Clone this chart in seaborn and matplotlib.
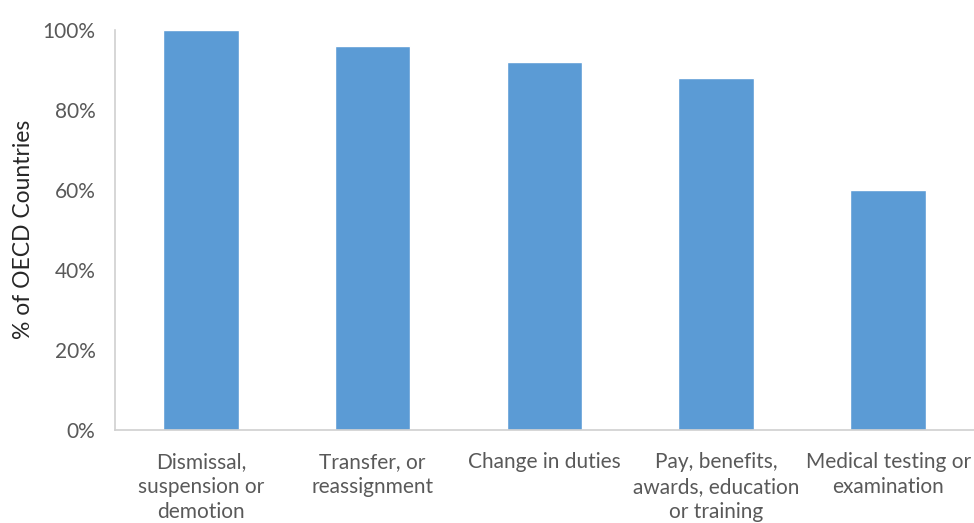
import matplotlib
matplotlib.use("Agg")
import matplotlib.pyplot as plt
import seaborn as sns
import pandas as pd
from matplotlib.ticker import FuncFormatter

categories = [
    "Dismissal,\nsuspension or\ndemotion",
    "Transfer, or\nreassignment",
    "Change in duties",
    "Pay, benefits,\nawards, education\nor training",
    "Medical testing or\nexamination",
]
values = [100, 96, 92, 88, 60]

sns.set_theme(style="white")
plt.rcParams["font.family"] = ["Lato", "DejaVu Sans"]

df = pd.DataFrame({"category": categories, "value": values})

fig = plt.figure(figsize=(9.74, 5.23), dpi=100)
ax = fig.add_axes([0.118, 0.178, 0.882, 0.765])
sns.barplot(data=df, x="category", y="value", color="#5B9BD5", width=0.44,
            saturation=1, ax=ax)

ax.set_ylim(0, 100)
ax.set_xlim(-0.5, 4.5)
ax.set_yticks([0, 20, 40, 60, 80, 100])
ax.yaxis.set_major_formatter(FuncFormatter(lambda v, p: f"{int(v)}%"))
ax.tick_params(axis="y", length=0, labelsize=15, colors="#595959", pad=14)
ax.tick_params(axis="x", length=0, labelsize=15, colors="#595959", pad=16)
for lbl in ax.get_xticklabels():
    lbl.set_linespacing(1.3)
ax.set_xlabel("")
ax.set_ylabel("% of OECD Countries", fontsize=16.5, color="#262626")
ax.yaxis.set_label_coords(-0.094, 0.5)

for s in ["top", "right"]:
    ax.spines[s].set_visible(False)
for s in ["left", "bottom"]:
    ax.spines[s].set_color("#D0D0D0")
    ax.spines[s].set_linewidth(1.2)

fig.savefig("out.png", dpi=100)
